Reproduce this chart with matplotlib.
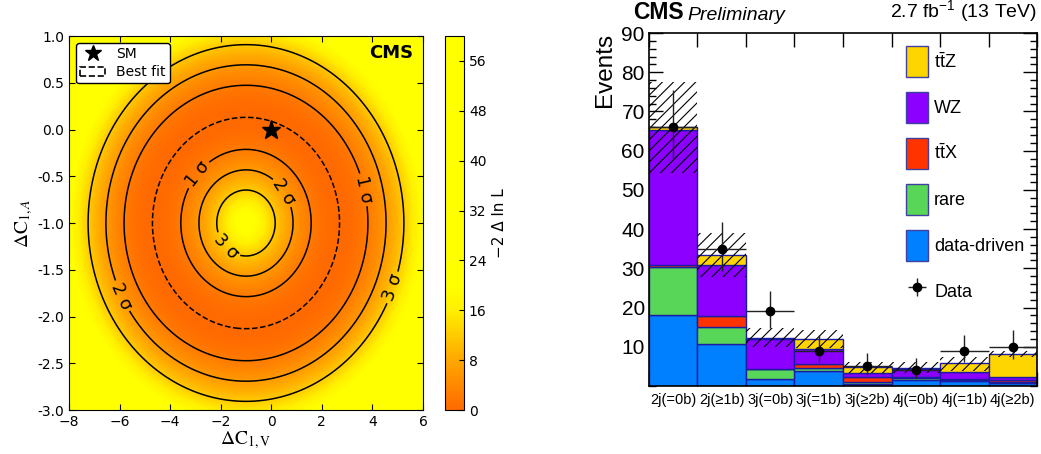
import numpy as np
import matplotlib
matplotlib.use("Agg")
import matplotlib.pyplot as plt
from matplotlib.colors import LinearSegmentedColormap
from matplotlib.patches import Patch
from matplotlib.lines import Line2D
from matplotlib.ticker import FixedLocator, MultipleLocator, NullFormatter

plt.rcParams['mathtext.fontset'] = 'custom'
plt.rcParams['mathtext.rm'] = 'Liberation Sans'
plt.rcParams['mathtext.it'] = 'Liberation Sans:italic'
plt.rcParams['mathtext.bf'] = 'Liberation Sans:bold'
plt.rcParams['hatch.linewidth'] = 0.8

# ---------------- left panel: likelihood scan ----------------
cv_range = (-8.0, 6.0)
ca_range = (-3.0, 1.0)
bestfit_center = (-1.0, -1.0)
bestfit_radii = (3.7, 1.13)
curvature = 25.0
sigma_levels = [2.30, 6.18, 11.83]
sigma_labels = ['1 σ', '2 σ', '3 σ']
label_positions = [(-2.95, -0.47), (3.57, -0.65), (0.6, -0.65), (-5.98, -1.79),
                   (-1.77, -1.25), (4.69, -1.68)]
sm_point = (0.0, 0.0)
cbar_ticks = [0, 8, 16, 24, 32, 40, 48, 56]
cmap_nodes = [(0.0, '#ff6a00'), (8 / 60, '#ffa800'), (16 / 60, '#fff000'),
              (20 / 60, '#ffff00'), (1.0, '#ffff00')]

# ---------------- right panel: event yields ----------------
categories = ['2j(=0b)', '2j(≥1b)', '3j(=0b)', '3j(=1b)', '3j(≥2b)', '4j(=0b)', '4j(=1b)', '4j(≥2b)']
data_driven = [18.0, 10.6, 1.8, 3.7, 0.5, 1.5, 1.3, 0.85]
rare = [12.4, 4.4, 2.45, 0.8, 0.6, 0.6, 0.2, 0.25]
ttx = [0.5, 2.9, 0.15, 1.0, 1.1, 0.3, 0.3, 0.4]
wz = [34.4, 13.0, 7.6, 3.85, 1.0, 1.85, 1.7, 0.9]
ttz = [0.7, 2.4, 0.2, 2.55, 1.6, 0.45, 2.3, 5.7]
band_lo = [54.3, 27.7, 10.0, 9.6, 3.2, 3.4, 3.7, 7.3]
band_hi = [77.6, 38.9, 14.7, 14.3, 6.0, 6.0, 7.3, 9.0]
data = [66, 35, 19, 9, 5, 4, 9, 10]
data_err_lo = [8.2, 5.8, 4.3, 3.0, 2.2, 1.9, 3.0, 3.1]
data_err_hi = [9.5, 6.9, 5.3, 4.0, 3.3, 3.2, 4.0, 4.3]

proc_names = ['data-driven', 'rare', r'$\mathrm{t\bar{t}X}$', 'WZ', r'$\mathrm{t\bar{t}Z}$']
proc_colors = ['#0080ff', '#58d658', '#ff3300', '#8c00ff', '#ffd500']

fig = plt.figure(figsize=(10.41, 4.54), dpi=100)

# ===== left =====
ax1 = fig.add_axes([0.0663, 0.0969, 0.3400, 0.8238])
cax = fig.add_axes([0.4275, 0.0969, 0.0182, 0.8238])

gv = np.linspace(cv_range[0], cv_range[1], 500)
ga = np.linspace(ca_range[0], ca_range[1], 500)
V, A = np.meshgrid(gv, ga)
R = np.sqrt(((V - bestfit_center[0]) / bestfit_radii[0]) ** 2 +
            ((A - bestfit_center[1]) / bestfit_radii[1]) ** 2)
L = curvature * (R - 1.0) ** 2

cmap = LinearSegmentedColormap.from_list('cmsorange', cmap_nodes)
im = ax1.imshow(L, extent=[cv_range[0], cv_range[1], ca_range[0], ca_range[1]],
                origin='lower', aspect='auto', cmap=cmap, vmin=0, vmax=60,
                interpolation='bilinear')
cs = ax1.contour(V, A, L, levels=sigma_levels, colors='black', linewidths=1.1)
ax1.clabel(cs, fmt=dict(zip(cs.levels, sigma_labels)), manual=label_positions,
           inline=True, fontsize=12.5, inline_spacing=3)
ax1.contour(V, A, R, levels=[1.0], colors='black', linewidths=1.1, linestyles='--')
ax1.plot([sm_point[0]], [sm_point[1]], marker='*', color='black', markersize=14,
         linestyle='none')
ax1.set_xlim(cv_range)
ax1.set_ylim(ca_range)
ax1.set_xticks([-8, -6, -4, -2, 0, 2, 4, 6])
ax1.set_yticks([-3.0, -2.5, -2.0, -1.5, -1.0, -0.5, 0.0, 0.5, 1.0])
ax1.yaxis.set_major_formatter(matplotlib.ticker.FormatStrFormatter('%.1f'))
ax1.tick_params(direction='in', top=True, right=True, labelsize=10, length=4)
ax1.set_xlabel(r'$\Delta\mathrm{C}_{1,\mathrm{V}}$', fontsize=14, math_fontfamily='stix', labelpad=0)
ax1.set_ylabel(r'$\Delta\mathrm{C}_{1,A}$', fontsize=14, math_fontfamily='stix', labelpad=2)
ax1.text(0.972, 0.955, 'CMS', transform=ax1.transAxes, ha='right', va='center',
         fontsize=13, fontweight='bold')
leg_handles = [Line2D([], [], marker='*', color='black', markersize=12, linestyle='none'),
               Patch(facecolor='none', edgecolor='black', linestyle='--', linewidth=1.2)]
ax1.legend(leg_handles, ['SM', 'Best fit'], loc='upper left', fontsize=10,
           framealpha=1, edgecolor='black', borderpad=0.3, handlelength=1.8,
           labelspacing=0.3)

cb = fig.colorbar(im, cax=cax, ticks=cbar_ticks)
cb.set_label('−2 Δ ln L', fontsize=11)
cb.ax.tick_params(labelsize=10, direction='in')

# ===== right =====
ax2 = fig.add_axes([0.6234, 0.1498, 0.3728, 0.7775])
x = np.arange(len(categories))
bottom = np.zeros(len(categories))
for name, col, vals in zip(proc_names, proc_colors, [data_driven, rare, ttx, wz, ttz]):
    vals = np.asarray(vals)
    ax2.bar(x, vals, width=1.0, bottom=bottom, color=col, edgecolor='#1c1ca0',
            linewidth=1.0, zorder=2)
    bottom = bottom + vals
band_lo_a = np.asarray(band_lo)
band_hi_a = np.asarray(band_hi)
ax2.bar(x, band_hi_a - band_lo_a, width=1.0, bottom=band_lo_a, fill=False,
        hatch='///', edgecolor='black', linewidth=0, zorder=3)
eb = ax2.errorbar(x, data, yerr=[data_err_lo, data_err_hi], xerr=0.5, fmt='o',
                  color='black', ecolor='#222222', elinewidth=1.0, markersize=6,
                  capsize=0, zorder=4)

ax2.set_xlim(-0.5, len(categories) - 0.5)
ax2.set_ylim(0, 90)
ax2.xaxis.set_major_locator(FixedLocator(np.arange(len(categories) + 1) - 0.5))
ax2.xaxis.set_major_formatter(NullFormatter())
ax2.xaxis.set_minor_locator(FixedLocator(x))
ax2.set_xticklabels(categories, minor=True)
ax2.tick_params(axis='x', which='major', direction='in', top=True, bottom=True,
                length=10, width=1.0)
ax2.tick_params(axis='x', which='minor', length=0, labelsize=10.5, pad=5,
                labelfontfamily='Liberation Sans')
ax2.yaxis.set_major_locator(FixedLocator([10, 20, 30, 40, 50, 60, 70, 80, 90]))
ax2.yaxis.set_minor_locator(MultipleLocator(2))
ax2.tick_params(axis='y', which='major', direction='in', left=True, right=True,
                length=10, width=1.0, labelsize=15, labelfontfamily='Liberation Sans', pad=3)
ax2.tick_params(axis='y', which='minor', direction='in', left=True, right=True,
                length=5, width=1.0)
for s in ax2.spines.values():
    s.set_linewidth(1.2)
ax2.set_ylabel('Events', loc='top', fontsize=17.5, fontfamily='Liberation Sans', labelpad=4)

ax2.text(-0.041, 1.025, 'CMS', transform=ax2.transAxes, ha='left', va='bottom',
         fontsize=16.5, fontweight='bold', fontfamily='Liberation Sans')
ax2.text(0.100, 1.025, 'Preliminary', transform=ax2.transAxes, ha='left', va='bottom',
         fontsize=14, fontstyle='italic', fontfamily='Liberation Sans')
ax2.text(1.0, 1.025, r'2.7 fb$^{\mathrm{-1}}$ (13 TeV)', transform=ax2.transAxes,
         ha='right', va='bottom', fontsize=14, fontfamily='Liberation Sans')

leg_h = [Patch(facecolor=c, edgecolor='#4040a0', linewidth=1.0) for c in proc_colors[::-1]]
leg_h.append(eb)
leg_l = proc_names[::-1] + ['Data']
ax2.legend(leg_h, leg_l, loc='upper left', bbox_to_anchor=(0.662, 0.962),
           frameon=False, prop={'family': 'Liberation Sans', 'size': 13},
           handlelength=1.22, handleheight=2.26, labelspacing=0.83,
           handletextpad=0.35, borderpad=0, borderaxespad=0)

fig.savefig('out.png', dpi=100)
